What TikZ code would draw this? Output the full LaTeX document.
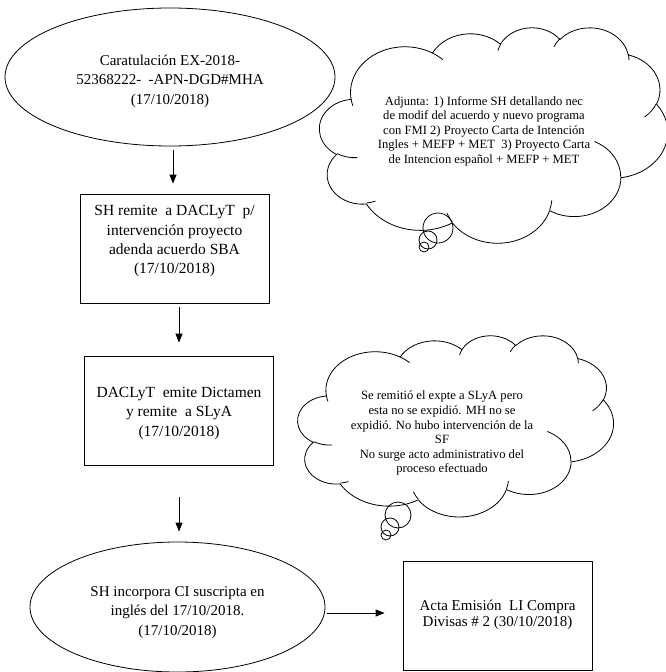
\documentclass[tikz,border=0pt]{standalone}
\usepackage{fontspec}
\setmainfont{Liberation Serif}
\usetikzlibrary{arrows.meta,shapes.geometric}

% centred block of lines; #1 = extra room above, #2 = extra room below
\newcommand\padtext[3]{\raisebox{0pt}[\dimexpr\height+#1\relax][\dimexpr\depth+#2\relax]{\begin{tabular}{@{}c@{}}#3\end{tabular}}}

% Word-style cloud drawn in a 43.2 x 43.2 frame (y pointing down)
\newcommand\cloudoutline{%
  \draw[puff] (3.900,14.370)
    \foreach \wr/\hr/\sa/\sw in {
      6.753/9.190/-190.4875/123.7805,
      5.333/7.267/-144.1024/89.9452,
      4.365/5.945/-145.8079/99.7230,
      4.857/6.595/-130.9861/117.2417,
      5.333/7.273/-78.7089/109.0269,
      6.775/9.220/-46.2673/130.2690,
      5.785/7.867/0.6250/114.0333,
      6.752/9.215/22.4516/115.1726,
      7.720/10.543/66.2426/75.7110,
      4.360/5.918/-274.9421/146.7356,
      4.345/5.945/-246.8285/152.5189}{
      \pgfextra{%
        \pgfmathsetmacro\angA{atan2(\wr*sin(\sa),\hr*cos(\sa))}%
        \pgfmathsetmacro\angB{atan2(\wr*sin(\sa+\sw),\hr*cos(\sa+\sw))}%
        \pgfmathsetmacro\angD{mod(\angB-\angA+540,360)-180}}
      arc[start angle=\angA, delta angle=\angD, x radius=\wr, y radius=\hr]
    } -- cycle;
  % short inner creases where the puffs meet
  \foreach \px/\py/\wr/\hr/\sa/\sw in {
      4.693/26.177/4.345/5.945/86.7420/26.4295,
      6.928/34.899/4.360/5.918/73.6105/11.4475,
      16.478/39.090/6.752/9.215/137.6242/14.0811,
      28.827/34.751/6.752/9.215/6.4533/15.9984,
      34.129/22.954/5.785/7.867/-70.2924/70.9174,
      41.798/15.354/5.333/7.273/30.3180/27.7515,
      38.324/5.426/4.857/6.595/-13.7443/14.8519,
      29.078/3.952/4.857/6.595/-149.1815/18.1837,
      22.141/4.720/4.365/5.945/-163.4943/17.6910,
      14.000/5.192/6.753/9.190/-66.7070/12.3194,
      4.127/15.789/6.753/9.190/157.6544/11.8582}{
    \pgfmathsetmacro\angA{atan2(\wr*sin(\sa),\hr*cos(\sa))}
    \pgfmathsetmacro\angB{atan2(\wr*sin(\sa+\sw),\hr*cos(\sa+\sw))}
    \pgfmathsetmacro\angD{mod(\angB-\angA+540,360)-180}
    \draw[puff] (\px,\py) arc[start angle=\angA, delta angle=\angD, x radius=\wr, y radius=\hr];
  }%
}

\begin{document}
\begin{tikzpicture}[
  x=1pt, y=-1pt,
  outline/.style={draw=black, line width=0.8pt},
  oval/.style={outline, ellipse, inner sep=0pt},
  panel/.style={outline, rectangle, inner sep=0pt, minimum width=189pt, minimum height=109pt},
  flow/.style={line width=0.8pt, -{Triangle[length=9pt,width=7pt]}},
  puff/.style={line width=0.8pt, line join=round},
  ovaltext/.style={font=\fontsize{15}{19.5}\selectfont},
  paneltext/.style={font=\fontsize{15.5}{19.3}\selectfont},
  cloudtext/.style={inner sep=0pt, font=\fontsize{12.6}{14.4}\selectfont},
]
\useasboundingbox (0,0) rectangle (666,672);
\fill[white] (0,0) rectangle (666,672);

% main flow
\node[oval, ovaltext, minimum width=330pt, minimum height=138pt] (e1) at (170,77)
  {\padtext{8pt}{0pt}{Caratulación EX-2018-\\52368222-\ \ -APN-DGD\#MHA\\(17/10/2018)}};
\node[panel, paneltext] (b1) at (174.5,248.5)
  {\padtext{0pt}{15pt}{SH remite\ \ a DACLyT\ \ p/\\intervención proyecto\\adenda acuerdo SBA\\(17/10/2018)}};
\node[panel, paneltext] (b2) at (179,410.5)
  {\padtext{5pt}{0pt}{DACLyT\ \ emite Dictamen\\y remite\ \ a SLyA\\(17/10/2018)}};
\node[oval, ovaltext, minimum width=295pt, minimum height=130pt] (e2) at (177.5,607)
  {\padtext{10pt}{0pt}{SH incorpora CI suscripta en\\inglés del 17/10/2018.\\(17/10/2018)}};
\node[panel, font=\fontsize{15}{15.5}\selectfont] (b3) at (497.5,615.5)
  {\padtext{0pt}{0pt}{Acta Emisión\ \ LI Compra\\Divisas \# 2 (30/10/2018)}};

\draw[flow, shorten <=4pt, shorten >=10pt] ([xshift=3pt]e1.south) -- ([xshift=3pt]e1.south |- b1.north);
\draw[flow, shorten <=4pt, shorten >=13pt] (b1.south -| b2.north) -- (b2.north);
\draw[flow, shorten <=32pt, shorten >=10pt] (b2.south) -- (b2.south |- e2.north);
\draw[flow, shorten <=2pt, shorten >=18pt] ([yshift=-6pt]e2.east) -- ([yshift=-6pt]e2.east -| b3.west);

% first thought cloud
\begin{scope}[shift={(319.6,27.1)}, xscale=8.056, yscale=4.986]
  \cloudoutline
\end{scope}
\draw[puff] (438,228) circle[radius=15];
\draw[puff] (428,240) circle[radius=9];
\draw[puff] (424,247) circle[radius=5];
\node[cloudtext] (n1) at (484,131.5)
  {\padtext{0pt}{0pt}{Adjunta: 1) Informe SH detallando nec\\de modif del acuerdo y nuevo programa\\con FMI 2) Proyecto Carta de Intención\\Ingles + MEFP + MET\ \ 3) Proyecto Carta\\de Intencion español + MEFP + MET}};

% second thought cloud
\begin{scope}[shift={(297.8,335.2)}, xscale=7.307, yscale=4.193]
  \cloudoutline
\end{scope}
\draw[puff] (398,515) circle[radius=13];
\draw[puff] (390,527) circle[radius=9];
\draw[puff] (386,535) circle[radius=5];
\node[cloudtext, font=\fontsize{12.6}{14.6}\selectfont] (n2) at (442,433.5)
  {\padtext{0pt}{0pt}{Se remitió el expte a SLyA pero\\esta no se expidió. MH no se\\expidió. No hubo intervención de la\\SF\\No surge acto administrativo del\\proceso efectuado}};
\end{tikzpicture}
\end{document}
